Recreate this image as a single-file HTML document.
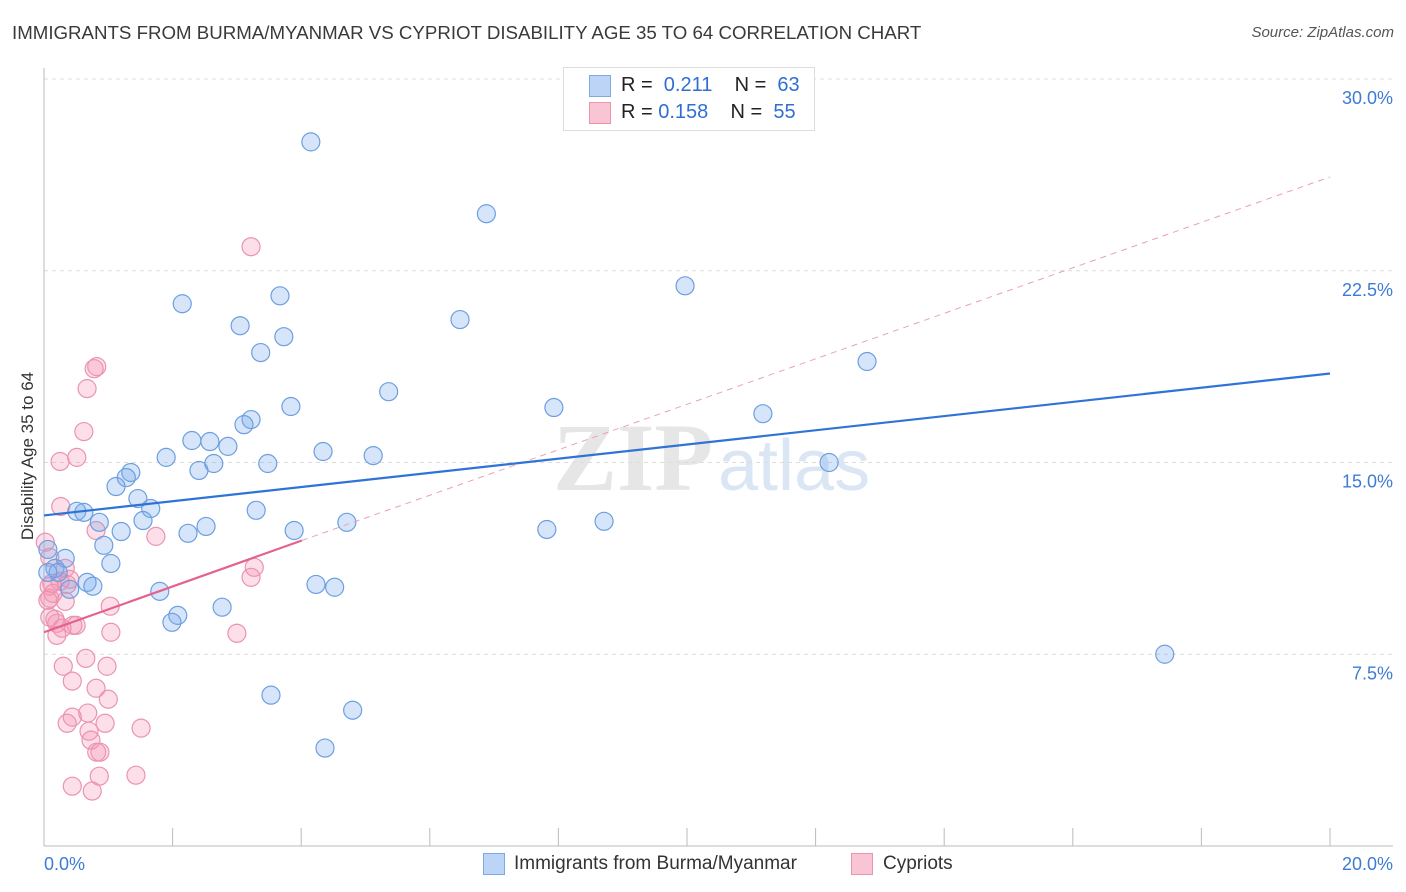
<!DOCTYPE html>
<html><head><meta charset="utf-8"><style>
body{margin:0;background:#fff;font-family:"Liberation Sans",sans-serif;}
#wrap{position:relative;width:1406px;height:892px;overflow:hidden}
.t{position:absolute;white-space:nowrap}
</style></head><body><div id="wrap">
<div class="t" style="left:12px;top:22px;font-size:18.7px;color:#3a3a3a">IMMIGRANTS FROM BURMA/MYANMAR VS CYPRIOT DISABILITY AGE 35 TO 64 CORRELATION CHART</div>
<div class="t" style="right:12px;top:24px;font-size:15px;color:#555;font-style:italic">Source: ZipAtlas.com</div>
<svg id="svg" width="1406" height="892" style="position:absolute;left:0;top:0"></svg>
</div>
<script>
const xTicks=[0,20];
const yTicks=[7.5,15,22.5,30];
const yTickLabels=["7.5%","15.0%","22.5%","30.0%"];
const blueX=[4.15,6.88,9.97,2.15,3.67,3.05,3.73,6.47,3.37,12.80,5.36,3.84,7.93,11.18,3.22,3.11,2.30,2.58,2.86,1.90,4.34,5.12,3.48,2.64,2.41,12.21,1.35,1.28,1.12,1.46,1.66,0.51,0.62,0.86,1.54,3.30,2.52,1.20,2.24,3.89,4.71,7.82,8.71,0.93,0.33,0.17,0.22,1.04,0.06,0.67,0.76,0.40,4.23,4.52,1.80,2.08,1.99,2.77,17.43,3.53,4.80,4.37,0.06];
const blueY=[27.54,24.73,21.91,21.21,21.52,20.35,19.92,20.59,19.30,18.95,17.77,17.19,17.15,16.91,16.68,16.48,15.86,15.82,15.63,15.20,15.43,15.27,14.96,14.96,14.69,15.00,14.61,14.41,14.06,13.59,13.20,13.09,13.05,12.66,12.73,13.13,12.50,12.30,12.23,12.34,12.66,12.38,12.70,11.76,11.25,10.86,10.70,11.05,10.70,10.31,10.16,10.04,10.23,10.12,9.96,9.02,8.75,9.34,7.50,5.90,5.31,3.83,11.60];
const pinkX=[3.22,0.82,0.78,0.67,0.62,0.51,0.25,0.26,0.81,1.74,0.33,0.40,0.36,0.12,0.08,0.14,0.33,1.03,0.09,0.09,0.17,0.20,0.45,0.50,0.28,0.20,1.04,3.00,3.27,3.22,0.30,0.98,0.65,0.44,0.81,1.00,0.68,0.44,0.36,0.95,0.70,0.73,1.51,0.82,0.87,0.86,1.43,0.44,0.75,0.02,0.09,0.25,0.06];
const pinkY=[23.44,18.75,18.67,17.89,16.21,15.20,15.04,13.28,12.34,12.11,10.86,10.43,10.23,10.27,10.16,9.88,9.57,9.38,9.69,8.95,8.87,8.71,8.63,8.63,8.52,8.24,8.36,8.32,10.90,10.51,7.03,7.03,7.34,6.45,6.17,5.74,5.20,5.04,4.80,4.80,4.49,4.14,4.61,3.67,3.67,2.73,2.77,2.34,2.15,11.88,11.29,10.35,9.61];
const blueFit=[[0,12.93],[20,18.48]];
const pinkFit=[[0,8.36],[4.01,11.95]];
const pinkExt=[[4.01,11.95],[20,26.17]];
const X0=44,X1=1330,Y0=846,YTOP=79;
const sx=v=>X0+(v-0)/(20-0)*(X1-X0);
const sy=v=>Y0-(v/30)*(Y0-YTOP);
const svg=document.getElementById('svg');const NS='http://www.w3.org/2000/svg';
function mk(tag,at,name){const e=document.createElementNS(NS,tag);for(const k in at)e.setAttribute(k,at[k]);


svg.appendChild(e);return e;}
let w=mk('text',{x:553,y:490,'font-size':96,'font-family':'Liberation Serif,serif',fill:'#e6e6e6','font-weight':'bold'},'watermark-zip');w.textContent='ZIP';
w=mk('text',{x:718,y:490,'font-size':72,'font-family':'Liberation Sans,sans-serif',fill:'#dbe6f5'},'watermark-atlas');w.textContent='atlas';
yTicks.forEach((t,i)=>{const y=sy(t);
mk('line',{x1:X0,x2:1393,y1:y,y2:y,stroke:'#dcdcdc','stroke-dasharray':'4,4'},'gridline');
const tx=mk('text',{x:1393,y:y+25,'text-anchor':'end','font-size':18,fill:'#3d7bd4','font-family':'Liberation Sans,sans-serif'},'y-tick-label');tx.textContent=yTickLabels[i];});
mk('line',{x1:X0,x2:X0,y1:68,y2:Y0,stroke:'#bbb'},'y-axis-line');
mk('line',{x1:X0,x2:1393,y1:Y0,y2:Y0,stroke:'#bbb'},'x-axis-line');
for(let i=0;i<=10;i++){const x=sx(i*2);mk('line',{x1:x,x2:x,y1:828,y2:Y0,stroke:'#bbb'},'x-tick');}
let tl=mk('text',{x:44,y:870,'font-size':18,fill:'#3d7bd4','font-family':'Liberation Sans,sans-serif'},'x-tick-label');tl.textContent='0.0%';
tl=mk('text',{x:1393,y:870,'text-anchor':'end','font-size':18,fill:'#3d7bd4','font-family':'Liberation Sans,sans-serif'},'x-tick-label');tl.textContent='20.0%';
tl=mk('text',{x:33,y:456,'text-anchor':'middle','font-size':17,fill:'#333','font-family':'Liberation Sans,sans-serif',transform:'rotate(-90 33 456)'},'y-axis-title');tl.textContent='Disability Age 35 to 64';
pinkX.forEach((v,i)=>mk('circle',{cx:sx(v),cy:sy(pinkY[i]),r:9,fill:'rgba(244,150,180,0.3)',stroke:'#eb93b1','stroke-width':1.2},'pink-point'));
blueX.forEach((v,i)=>mk('circle',{cx:sx(v),cy:sy(blueY[i]),r:9,fill:'rgba(120,170,235,0.3)',stroke:'#6d9fe0','stroke-width':1.2},'blue-point'));
mk('line',{x1:sx(pinkExt[0][0]),y1:sy(pinkExt[0][1]),x2:sx(pinkExt[1][0]),y2:sy(pinkExt[1][1]),stroke:'#eaa0b8','stroke-dasharray':'6,5','stroke-width':1},'pink-trend-extension');
mk('line',{x1:sx(blueFit[0][0]),y1:sy(blueFit[0][1]),x2:sx(blueFit[1][0]),y2:sy(blueFit[1][1]),stroke:'#2f73d6','stroke-width':2.2},'blue-trend-line');
mk('line',{x1:sx(pinkFit[0][0]),y1:sy(pinkFit[0][1]),x2:sx(pinkFit[1][0]),y2:sy(pinkFit[1][1]),stroke:'#e4628e','stroke-width':2.2},'pink-trend-line');
</script>
<div class="t" style="left:563px;top:67px;width:250px;height:62px;border:1px solid #ddd;background:#fff"></div>
<div class="t" style="left:589px;top:75px;width:20px;height:20px;background:#bcd5f6;border:1px solid #7ea9e4"></div>
<div class="t" style="left:589px;top:102px;width:20px;height:20px;background:#f9c5d5;border:1px solid #eb93b1"></div>
<div class="t" style="left:621px;top:74px;font-size:20px;color:#222">R = &nbsp;<span style="color:#2f6fcf">0.211</span>&nbsp;&nbsp;&nbsp; N = &nbsp;<span style="color:#2f6fcf">63</span></div>
<div class="t" style="left:621px;top:101px;font-size:20px;color:#222">R = <span style="color:#2f6fcf">0.158</span>&nbsp;&nbsp;&nbsp; N = &nbsp;<span style="color:#2f6fcf">55</span></div>
<div class="t" style="left:483px;top:853px;width:20px;height:20px;background:#bcd5f6;border:1px solid #7ea9e4"></div>
<div class="t" style="left:514px;top:853px;font-size:19px;color:#333">Immigrants from Burma/Myanmar</div>
<div class="t" style="left:851px;top:853px;width:20px;height:20px;background:#f9c5d5;border:1px solid #eb93b1"></div>
<div class="t" style="left:883px;top:853px;font-size:19px;color:#333">Cypriots</div>
</body></html>
